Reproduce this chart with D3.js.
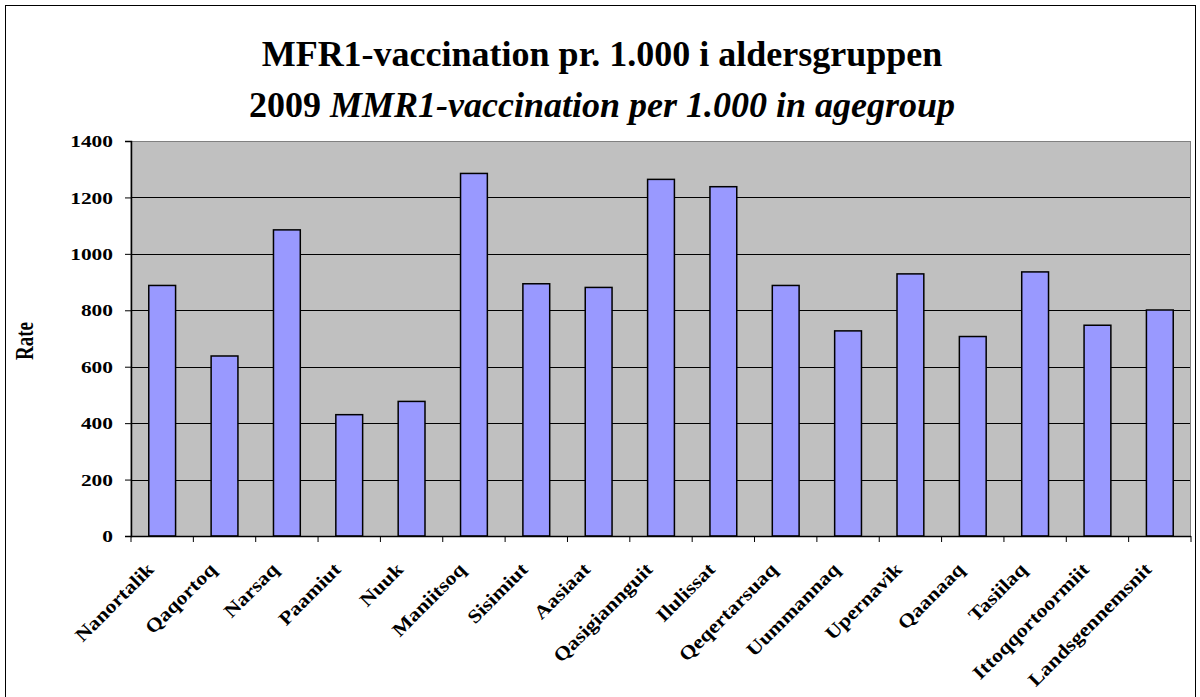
<!DOCTYPE html>
<html><head><meta charset="utf-8">
<script src="https://cdn.jsdelivr.net/npm/d3@7"></script>
<style>
body{margin:0;background:#fff;}
svg{display:block;font-family:"Liberation Serif","Times New Roman",serif;}
</style></head>
<body><svg id="c" width="1200" height="697"></svg>
<script>
const categories = ["Nanortalik","Qaqortoq","Narsaq","Paamiut","Nuuk","Maniitsoq","Sisimiut","Aasiaat","Qasigiannguit","Ilulissat","Qeqertarsuaq","Uummannaq","Upernavik","Qaanaaq","Tasiilaq","Ittoqqortoormiit","Landsgennemsnit"];
const values = [888,638,1085,430,477,1285,894,881,1264,1238,888,727,929,707,936,747,801];
const yTicks = [0,200,400,600,800,1000,1200,1400];
const titleLine1 = "MFR1-vaccination pr. 1.000 i aldersgruppen";
const titleYear = "2009 ";
const titleLine2 = "MMR1-vaccination per 1.000 in agegroup";
const yLabel = "Rate";

const svg = d3.select("#c");
const L = 131, R = 1191, T = 141, B = 536;

svg.append("rect").attr("x",5.5).attr("y",5.5).attr("width",1190).attr("height",720)
  .attr("fill","#fff").attr("stroke","#000").attr("stroke-width",1);

const x = d3.scaleBand().domain(categories).range([L,R]).paddingInner(0.57).paddingOuter(0.285);
const y = d3.scaleLinear().domain([0,1400]).range([B,T]);

svg.append("rect").attr("x",L).attr("y",T+0.5).attr("width",R-L-0.5).attr("height",B-T)
  .attr("fill","#C0C0C0").attr("stroke","#808080").attr("stroke-width",1);

svg.append("g").selectAll("line").data(yTicks.filter(d=>d>0 && d<1400)).join("line")
  .attr("x1",L).attr("x2",R-1).attr("y1",d=>Math.round(y(d))+0.5).attr("y2",d=>Math.round(y(d))+0.5)
  .attr("stroke","#000").attr("stroke-width",1);

svg.append("g").selectAll("rect").data(values).join("rect")
  .attr("x",(d,i)=>x(categories[i])).attr("width",x.bandwidth())
  .attr("y",d=>y(d)).attr("height",d=>B-y(d))
  .attr("fill","#9999FF").attr("stroke","#000").attr("stroke-width",1.5);

// y axis
const ya = svg.append("g").attr("transform",`translate(${L},0)`)
  .call(d3.axisLeft(y).tickValues(yTicks).tickSize(6).tickFormat(""));
ya.select(".domain").attr("stroke","#000").attr("stroke-width",1.5);
ya.selectAll(".tick line").attr("stroke","#000");
svg.append("g").selectAll("text").data(yTicks).join("text")
  .attr("transform",d=>`translate(${L-18},${y(d)}) scale(1.26,1)`)
  .attr("text-anchor","end").attr("dy","0.36em")
  .attr("font-weight","bold").attr("font-size",17).attr("fill","#000")
  .text(d=>d3.format("d")(d));

// x axis
const n = categories.length;
const bounds = d3.range(n+1).map(i=>L + i*(R-L)/n);
const xa = svg.append("g");
xa.append("line").attr("x1",L).attr("x2",R).attr("y1",B+0.5).attr("y2",B+0.5).attr("stroke","#000").attr("stroke-width",1.5);
xa.selectAll("line.t").data(bounds).join("line").attr("class","t")
  .attr("x1",d=>d).attr("x2",d=>d).attr("y1",B).attr("y2",B+6).attr("stroke","#000");

xa.selectAll("text").data(categories).join("text")
  .attr("transform",d=>`translate(${x(d)+x.bandwidth()/2-12},${B+30}) rotate(-45) scale(1.15,1)`)
  .attr("text-anchor","end").attr("dy","0.35em")
  .attr("font-weight","bold").attr("font-size",19).attr("fill","#000")
  .text(d=>d);

svg.append("text").attr("transform",`translate(33,341) rotate(-90) scale(1,1.3)`)
  .attr("text-anchor","middle").attr("font-weight","bold").attr("font-size",19).text(yLabel);

svg.append("text").attr("x",602).attr("y",66).attr("text-anchor","middle")
  .attr("font-weight","bold").attr("font-size",36).text(titleLine1);
const t2 = svg.append("text").attr("x",602).attr("y",117).attr("text-anchor","middle")
  .attr("font-weight","bold").attr("font-size",36);
t2.append("tspan").text(titleYear);
t2.append("tspan").attr("font-style","italic").text(titleLine2);
</script></body></html>
